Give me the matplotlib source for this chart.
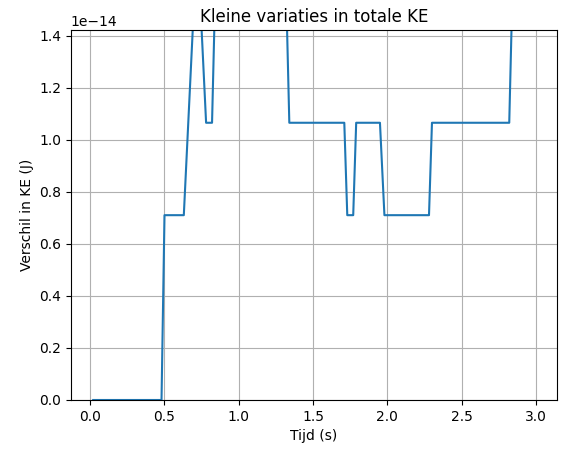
import matplotlib
matplotlib.use("Agg")
import matplotlib.pyplot as plt

EPS = 3.552713678800501e-15

# time points (s) and KE difference (J)
tijd = [0.02, 0.48, 0.50, 0.63, 0.72, 0.78, 0.82, 0.85, 1.31, 1.34,
        1.71, 1.73, 1.77, 1.79, 1.95, 1.98, 2.28, 2.30, 2.82, 2.85, 3.00]
verschil = [0, 0, 2 * EPS, 2 * EPS, 5 * EPS, 3 * EPS, 3 * EPS, 5 * EPS, 5 * EPS, 3 * EPS,
            3 * EPS, 2 * EPS, 2 * EPS, 3 * EPS, 3 * EPS, 2 * EPS, 2 * EPS, 3 * EPS, 3 * EPS, 5 * EPS, 5 * EPS]

fig, ax = plt.subplots(figsize=(5.67, 4.53), dpi=100)
fig.subplots_adjust(left=0.125, right=0.982, top=0.933, bottom=0.117)

ax.plot(tijd, verschil, color="#1f77b4")
ax.set_xlim(-0.13, 3.14)
ax.set_ylim(0, 4 * EPS)
ax.set_title("Kleine variaties in totale KE")
ax.set_xlabel("Tijd (s)")
ax.set_ylabel("Verschil in KE (J)")
ax.grid(True)

fig.savefig("out.png")
